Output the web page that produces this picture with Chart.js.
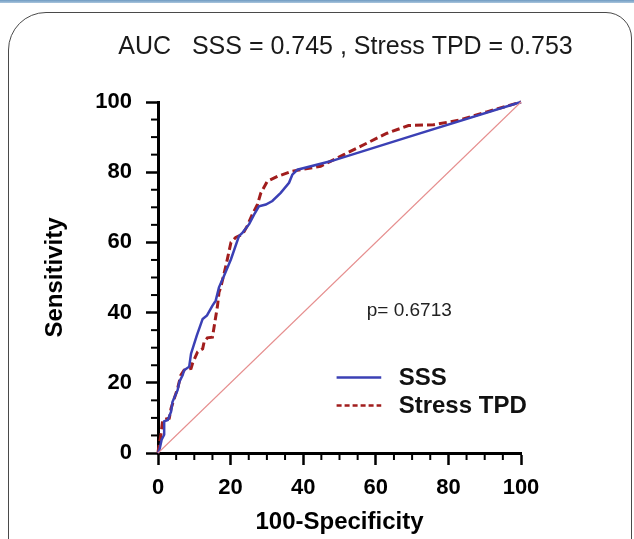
<!DOCTYPE html>
<html>
<head>
<meta charset="utf-8">
<script src="https://cdn.jsdelivr.net/npm/chart.js@4/dist/chart.umd.min.js"></script>
<style>
  body { margin: 0; background: #fff; width: 634px; height: 539px; overflow: hidden; position: relative; }
  #topbar { position: absolute; left: 0; top: 0; width: 634px; height: 3px; background: linear-gradient(#6f9bc2, #a9c5dd); }
  #frame { position: absolute; left: 8px; top: 12px; width: 622px; height: 600px; border: 1.5px solid #4a4a4a; border-radius: 38px 26px 0 0; }
  #chart { position: absolute; left: 0; top: 0; }
</style>
</head>
<body>
<div id="topbar"></div>
<div id="frame"></div>
<canvas id="chart" width="634" height="539"></canvas>
<script>
// ROC curve points (100-Specificity, Sensitivity)
const sssX = [0, 0.4, 1.0, 1.7, 1.7, 2.7, 3.6, 4.0, 5.4, 5.9, 6.8, 7.2, 8.6, 9.1, 10.0, 10.7, 12.3, 13.5, 15.0, 15.9, 16.8, 18.2, 20.1, 22.3, 23.3, 25.1, 26.5, 27.8, 29.7, 31.5, 33.8, 36.1, 37.0, 38.4, 47.5, 69.5, 100];
const sssY = [0, 0.9, 3.8, 5.2, 9.0, 9.4, 11.8, 14.6, 17.9, 20.3, 22.2, 23.6, 24.6, 28.3, 31.2, 33.5, 38.2, 39.2, 42.0, 43.4, 47.2, 50.5, 55.2, 61.8, 62.8, 65.2, 68.0, 70.3, 70.8, 71.8, 74.1, 77.0, 79.3, 80.7, 83.1, 90.2, 100];

const tpdX = [0, 0.1, 0.8, 1.3, 3.1, 3.6, 4.5, 5.4, 6.3, 7.2, 9.1, 9.5, 10.9, 12.3, 12.7, 13.6, 15.0, 16.4, 16.8, 17.3, 18.7, 20.1, 21.4, 23.3, 24.6, 26.0, 27.4, 28.3, 30.1, 32.9, 37.0, 39.3, 44.8, 51.2, 57.6, 63.1, 69.0, 75.9, 83.2, 90.6, 100];
const tpdY = [0, 0.9, 5.2, 9.4, 9.9, 12.7, 15.6, 18.4, 22.2, 23.6, 24.1, 25.5, 28.8, 29.7, 31.6, 32.8, 33.0, 42.0, 45.8, 47.2, 53.3, 60.0, 61.4, 62.3, 64.7, 68.0, 70.8, 74.0, 77.4, 78.8, 80.3, 80.7, 81.7, 85.0, 88.3, 91.1, 93.3, 93.5, 94.9, 97.2, 100];

// reference diagonal
const refX = [0, 100];
const refY = [0, 100];

const seriesLabels = ["SSS", "Stress TPD"];
const titleText = "AUC   SSS = 0.745 , Stress TPD = 0.753";
const pText = "p= 0.6713";
const xTitle = "100-Specificity";
const yTitle = "Sensitivity";

const FONT = "'Liberation Sans', Arial, Helvetica, sans-serif";

function toPoints(xs, ys) {
  return xs.map((x, i) => ({ x: x, y: ys[i] }));
}

// minor ticks every 5 units, drawn through the scales
const minorTicks = {
  id: "minorTicks",
  afterDraw(chart) {
    const ctx = chart.ctx;
    const xs = chart.scales.x;
    const ys = chart.scales.y;
    ctx.save();
    ctx.strokeStyle = "#000";
    ctx.lineWidth = 2;
    for (let v = 5; v < 100; v += 5) {
      if (v % 20 === 0) continue;
      const px = xs.getPixelForValue(v);
      ctx.beginPath();
      ctx.moveTo(px, xs.top);
      ctx.lineTo(px, xs.top + 7);
      ctx.stroke();
      const py = ys.getPixelForValue(v);
      ctx.beginPath();
      ctx.moveTo(ys.right, py);
      ctx.lineTo(ys.right - 7, py);
      ctx.stroke();
    }
    ctx.restore();
  }
};

// title, p-value text and legend
const notes = {
  id: "notes",
  afterDraw(chart) {
    const ctx = chart.ctx;
    const xs = chart.scales.x;
    const ys = chart.scales.y;
    const area = chart.chartArea;
    ctx.save();
    ctx.textBaseline = "middle";

    // title centred a little right of the plot, wider than the plot itself
    ctx.textAlign = "center";
    ctx.fillStyle = "#1a1a1a";
    ctx.font = "25px " + FONT;
    ctx.fillText(titleText, (area.left + area.right) / 2 + 6, 47);

    ctx.textAlign = "left";
    ctx.fillStyle = "#222";
    ctx.font = "19px " + FONT;
    ctx.fillText(pText, xs.getPixelForValue(57.5), ys.getPixelForValue(40.5));

    const rows = [1, 2];
    rows.forEach((dsIndex, i) => {
      const ds = chart.data.datasets[dsIndex];
      const y = ys.getPixelForValue(21.5 - i * 8);
      const x0 = xs.getPixelForValue(49.2);
      const x1 = xs.getPixelForValue(61.5);
      ctx.strokeStyle = ds.borderColor;
      ctx.lineWidth = 2.5;
      ctx.setLineDash(ds.borderDash ? [5, 3] : []);
      ctx.beginPath();
      ctx.moveTo(x0, y);
      ctx.lineTo(x1, y);
      ctx.stroke();
      ctx.setLineDash([]);
      ctx.fillStyle = "#111";
      ctx.font = "bold 24px " + FONT;
      ctx.fillText(ds.label, xs.getPixelForValue(66.3), y + 1);
    });
    ctx.restore();
  }
};

const ctx = document.getElementById("chart").getContext("2d");
new Chart(ctx, {
  type: "line",
  data: {
    datasets: [
      {
        label: "reference",
        data: toPoints(refX, refY),
        borderColor: "#e68f8f",
        borderWidth: 1.1,
        pointRadius: 0,
        clip: false,
      },
      {
        label: seriesLabels[0],
        data: toPoints(sssX, sssY),
        borderColor: "#3b40b5",
        borderWidth: 2.5,
        pointRadius: 0,
        tension: 0,
        clip: false,
      },
      {
        label: seriesLabels[1],
        data: toPoints(tpdX, tpdY),
        borderColor: "#a11d1d",
        borderWidth: 3,
        borderDash: [8, 4],
        pointRadius: 0,
        tension: 0,
        clip: false,
      },
    ],
  },
  options: {
    responsive: false,
    animation: false,
    layout: { padding: { left: 0, right: 113, top: 102, bottom: 0 } },
    plugins: {
      legend: { display: false },
      tooltip: { enabled: false },
      title: { display: false },
    },
    scales: {
      x: {
        type: "linear",
        min: 0,
        max: 100,
        afterFit(scale) { scale.height = 86; },
        border: { display: true, color: "#000", width: 3 },
        grid: { drawOnChartArea: false, drawTicks: true, tickLength: 12, tickWidth: 2.5, tickColor: "#000" },
        ticks: { stepSize: 20, padding: 9.8, color: "#000", font: { family: FONT, size: 22, weight: "bold" } },
        title: {
          display: true,
          text: xTitle,
          color: "#000",
          font: { family: FONT, size: 24, weight: "bold" },
          padding: { top: 0, bottom: 2.6 },
        },
      },
      y: {
        type: "linear",
        min: 0,
        max: 100,
        afterFit(scale) { scale.width = 158; },
        border: { display: true, color: "#000", width: 3 },
        grid: { drawOnChartArea: false, drawTicks: true, tickLength: 12, tickWidth: 2.5, tickColor: "#000" },
        ticks: { stepSize: 20, padding: 14, color: "#000", font: { family: FONT, size: 22, weight: "bold" } },
        title: {
          display: true,
          text: yTitle,
          color: "#000",
          font: { family: FONT, size: 24, weight: "bold" },
          padding: { top: 40.6, bottom: 0 },
        },
      },
    },
  },
  plugins: [minorTicks, notes],
});
</script>
</body>
</html>
